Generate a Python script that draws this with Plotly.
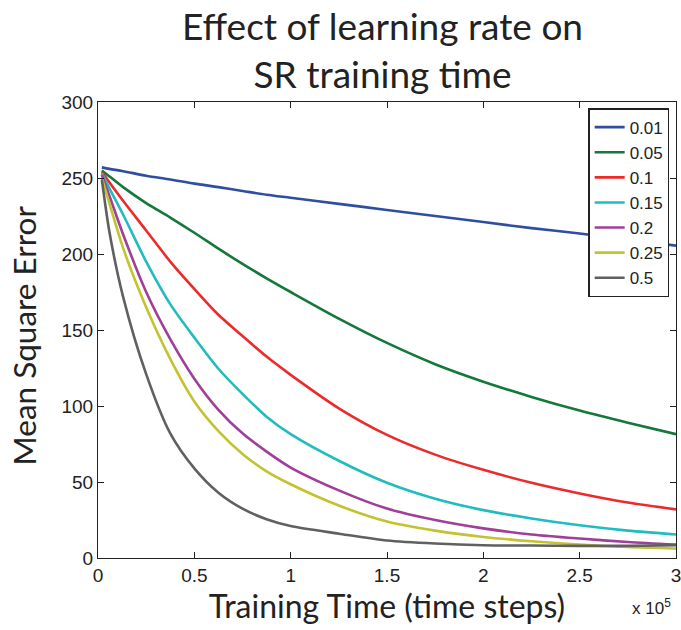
import plotly.graph_objects as go

# Training time in units of 1e5 time steps
steps = [0.02, 0.06, 0.13, 0.25, 0.375, 0.5, 0.625, 0.75, 0.875, 1.0,
         1.25, 1.5, 1.75, 2.0, 2.25, 2.5, 2.75, 3.0]

lr_labels = ["0.01", "0.05", "0.1", "0.15", "0.2", "0.25", "0.5"]

mse_001 = [257, 256, 254.5, 251.5, 249, 246.3, 244, 241.5, 239, 237,
           233, 229, 225, 221, 217, 213.5, 209.5, 205.5]
mse_005 = [255, 251, 244, 233.5, 224, 214, 203.5, 193.5, 184, 175,
           157.5, 141.5, 127.5, 116, 106, 97, 89, 81.5]
mse_01 = [254, 247, 235, 215.5, 195, 177, 160, 146, 132.5, 120.5,
          98.5, 81, 68, 58, 49.5, 42.5, 36.5, 32]
mse_015 = [253, 243, 226, 195, 167, 145, 124.5, 108, 93, 81.5,
           64, 49.5, 39, 31.5, 26, 21.5, 18, 15.5]
mse_02 = [252, 238, 213, 175, 144, 118, 97.5, 82, 70, 59.5,
          44.5, 32.5, 25, 19.5, 15.5, 12.8, 10.5, 8.8]
mse_025 = [250, 233, 204, 165, 131, 103, 83.5, 68.5, 57, 48.5,
           34.5, 24, 18, 13.8, 11, 8.8, 7.2, 6.2]
mse_05 = [249, 214, 172, 121, 82, 59, 43, 32.5, 25.5, 21,
          16, 11.5, 9.5, 8.4, 8.2, 8, 8, 8.4]

series = [mse_001, mse_005, mse_01, mse_015, mse_02, mse_025, mse_05]
colors = ["#2f4ea2", "#13783a", "#ed2a2a", "#20bcbf", "#a03e9a", "#c3c22f", "#606060"]

x_ticks = [0, 0.5, 1, 1.5, 2, 2.5, 3]
x_ticktext = ["0", "0.5", "1", "1.5", "2", "2.5", "3"]
y_ticks = [0, 50, 100, 150, 200, 250, 300]

fig = go.Figure()
for lab, ys, col in zip(lr_labels, series, colors):
    fig.add_trace(go.Scatter(x=steps, y=ys, mode="lines", name=lab,
                             line=dict(color=col, width=2.6, shape="spline",
                                       smoothing=0.8)))

axis_common = dict(showgrid=False, zeroline=False, showline=True,
                   linecolor="#222222", linewidth=1.2, mirror="ticks",
                   ticks="inside", ticklen=6, tickcolor="#222222",
                   ticklabeloverflow="allow", automargin=False,
                   tickfont=dict(family="Liberation Sans", size=19, color="#222222"))

fig.update_xaxes(range=[0, 3], tickvals=x_ticks, ticktext=x_ticktext,
                 title=dict(text="Training Time (time steps)",
                            font=dict(family="Lato", size=32, color="#222222"),
                            standoff=6),
                 **axis_common)
fig.update_yaxes(range=[0, 300], tickvals=y_ticks, **axis_common)

fig.add_annotation(text="Mean Square Error", xref="paper", yref="paper",
                   x=-0.128, y=0.488, xanchor="center", yanchor="middle",
                   textangle=-90, showarrow=False,
                   font=dict(family="Lato", size=31.5, color="#222222"))
fig.add_annotation(text="Effect of learning rate on<br>SR training time",
                   xref="paper", yref="paper", x=0.493, y=1.222,
                   xanchor="center", yanchor="top", showarrow=False,
                   font=dict(family="Lato", size=37, color="#222222"))
fig.add_annotation(text="x 10<sup>5</sup>", xref="paper", yref="paper",
                   x=0.995, y=-0.08, xanchor="right", yanchor="top",
                   showarrow=False,
                   font=dict(family="Liberation Sans", size=17, color="#222222"))

fig.update_layout(
    width=681, height=630,
    margin=dict(l=98, r=5, t=102, b=72, autoexpand=False),
    paper_bgcolor="white", plot_bgcolor="white",
    showlegend=True,
    legend=dict(x=0.9887, y=0.986, xanchor="right", yanchor="top",
                bgcolor="white", bordercolor="#222222", borderwidth=1.2,
                font=dict(family="Liberation Sans", size=17, color="#222222"),
                itemwidth=30, tracegroupgap=0),
)

fig.write_html("out.html")
